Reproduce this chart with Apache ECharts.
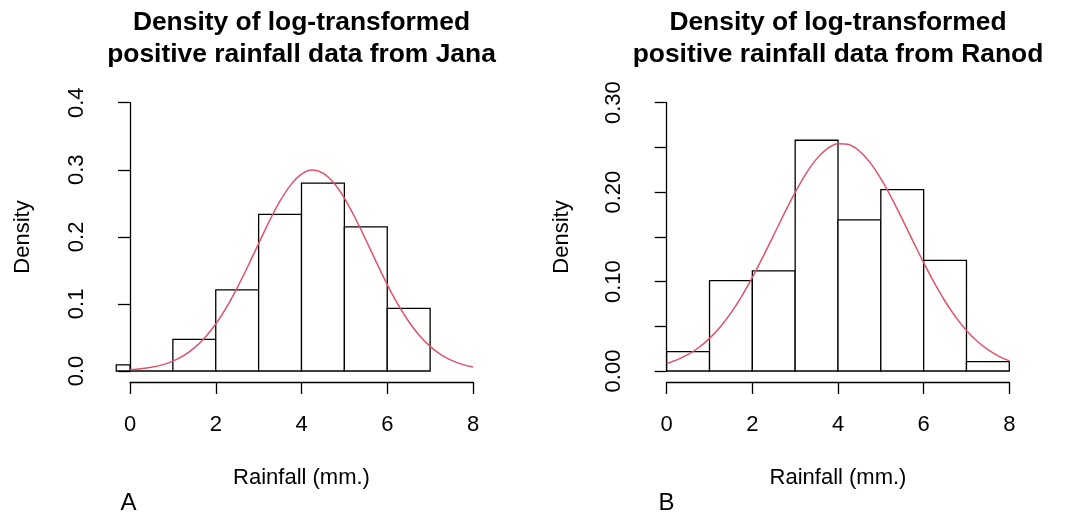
<!DOCTYPE html>
<html>
<head>
<meta charset="utf-8">
<script src="https://cdn.jsdelivr.net/npm/echarts@6/dist/echarts.min.js"></script>
<style>
  html, body { margin: 0; padding: 0; background: #fff; }
  #chart { width: 1069px; height: 517px; }
</style>
</head>
<body>
<div id="chart"></div>
<script>
// ---------- data ----------
const titleJana = ['Density of log-transformed', 'positive rainfall data from Jana'];
const titleRanod = ['Density of log-transformed', 'positive rainfall data from Ranod'];
const xLabel = 'Rainfall (mm.)';
const yLabel = 'Density';
const panelA = 'A';
const panelB = 'B';

// histogram bin edges (left, right) and densities
const binStartJana = [-1, 0, 1, 2, 3, 4, 5, 6];
const binEndJana   = [0, 1, 2, 3, 4, 5, 6, 7];
const densityJana  = [0.009, 0, 0.047, 0.121, 0.2335, 0.28, 0.215, 0.0935];

const binStartRanod = [0, 1, 2, 3, 4, 5, 6, 7];
const binEndRanod   = [1, 2, 3, 4, 5, 6, 7, 8];
const densityRanod  = [0.0216, 0.101, 0.112, 0.258, 0.169, 0.2028, 0.1237, 0.0104];

// fitted density curves
const curveX = [0, 0.25, 0.5, 0.75, 1, 1.25, 1.5, 1.75, 2, 2.25, 2.5, 2.75, 3, 3.25, 3.5, 3.75,
                4, 4.25, 4.5, 4.75, 5, 5.25, 5.5, 5.75, 6, 6.25, 6.5, 6.75, 7, 7.25, 7.5, 7.75, 8];
const curveJana = [0.0018, 0.0032, 0.0055, 0.0091, 0.0148, 0.0229, 0.0345, 0.0500, 0.0700, 0.0948,
                   0.1240, 0.1562, 0.1900, 0.2234, 0.2535, 0.2775, 0.2934, 0.2995, 0.2951, 0.2807,
                   0.2578, 0.2285, 0.1957, 0.1616, 0.1288, 0.0992, 0.0738, 0.0529, 0.0367, 0.0245,
                   0.0158, 0.0099, 0.0059];
const curveRanod = [0.0084, 0.0127, 0.0185, 0.0263, 0.0365, 0.0493, 0.0650, 0.0835, 0.1047, 0.1278,
                    0.1521, 0.1766, 0.1998, 0.2205, 0.2372, 0.2487, 0.2542, 0.2533, 0.2460, 0.2330,
                    0.2151, 0.1936, 0.1698, 0.1453, 0.1211, 0.0985, 0.0780, 0.0603, 0.0454, 0.0333,
                    0.0239, 0.0167, 0.0113];

// tick settings
const xTicks = { min: 0, max: 8, interval: 2 };
const yTicksJana = { min: 0, max: 0.4, interval: 0.1 };
const yTicksRanod = { min: 0, max: 0.3, interval: 0.05 };

// ---------- layout ----------
const FONT = '"Liberation Sans", Arial, Helvetica, sans-serif';
const XCLIP = -0.32; // left edge of the plot region in data units
const curveColor = '#DF536B';

function bins(s, e, d) { return s.map((v, i) => [v, e[i], d[i]]); }
function pts(xs, ys) { return xs.map((v, i) => [v, ys[i]]); }

function renderBar(params, api) {
  const x0 = Math.max(api.value(0), XCLIP);
  const p0 = api.coord([x0, 0]);
  const p1 = api.coord([api.value(1), api.value(2)]);
  return {
    type: 'rect',
    shape: { x: p0[0], y: p1[1], width: p1[0] - p0[0], height: p0[1] - p1[1] },
    style: { fill: '#ffffff', stroke: '#000000', lineWidth: 1.3 }
  };
}

function xAxisCfg(idx) {
  return {
    type: 'value', gridIndex: idx, min: xTicks.min, max: xTicks.max, interval: xTicks.interval,
    offset: 11,
    axisLine: { show: true, onZero: false, lineStyle: { color: '#000', width: 1.3 } },
    axisTick: { show: true, length: 12, lineStyle: { color: '#000', width: 1.3 } },
    axisLabel: { show: true, margin: 32, color: '#000', fontSize: 22, fontFamily: FONT, showMinLabel: true, showMaxLabel: true },
    splitLine: { show: false }
  };
}
function yAxisCfg(idx, t, offset, fmt) {
  return {
    type: 'value', gridIndex: idx, min: t.min, max: t.max, interval: t.interval,
    offset: offset,
    axisLine: { show: true, lineStyle: { color: '#000', width: 1.3 } },
    axisTick: { show: true, length: 12, lineStyle: { color: '#000', width: 1.3 } },
    axisLabel: { show: true, rotate: 90, margin: 28, color: '#000', fontSize: 22, fontFamily: FONT,
      showMinLabel: true, showMaxLabel: true, formatter: fmt },
    splitLine: { show: false }
  };
}

const chart = echarts.init(document.getElementById('chart'), null, { renderer: 'canvas' });
const txt = (text, x, y, font, rotation) => ({
  type: 'text', x: x, y: y, rotation: rotation || 0,
  style: { text: text, fill: '#000', font: font, textAlign: 'center', textVerticalAlign: 'middle' }
});
const TF = 'bold 26.4px ' + FONT;
const LF = '22px ' + FONT;

chart.setOption({
  animation: false,
  backgroundColor: '#ffffff',
  grid: [
    { left: 130, right: 596, top: 102.7, bottom: 146 },
    { left: 666.7, right: 59.7, top: 102.7, bottom: 146 }
  ],
  xAxis: [xAxisCfg(0), xAxisCfg(1)],
  yAxis: [
    yAxisCfg(0, yTicksJana, 14, v => v.toFixed(1)),
    yAxisCfg(1, yTicksRanod, 13.4, v => (Math.round(v * 100) % 10 === 0 ? v.toFixed(2) : ''))
  ],
  series: [
    { type: 'custom', xAxisIndex: 0, yAxisIndex: 0, renderItem: renderBar, clip: false,
      encode: { x: [0, 1], y: 2 }, data: bins(binStartJana, binEndJana, densityJana), z: 2 },
    { type: 'line', xAxisIndex: 0, yAxisIndex: 0, data: pts(curveX, curveJana), smooth: 0.3,
      symbol: 'none', lineStyle: { color: curveColor, width: 1.5 }, z: 3 },
    { type: 'custom', xAxisIndex: 1, yAxisIndex: 1, renderItem: renderBar, clip: false,
      encode: { x: [0, 1], y: 2 }, data: bins(binStartRanod, binEndRanod, densityRanod), z: 2 },
    { type: 'line', xAxisIndex: 1, yAxisIndex: 1, data: pts(curveX, curveRanod), smooth: 0.3,
      symbol: 'none', lineStyle: { color: curveColor, width: 1.5 }, z: 3 }
  ],
  graphic: [
    txt(titleJana[0], 301.5, 23, TF),
    txt(titleJana[1], 301.5, 55, TF),
    txt(titleRanod[0], 838, 23, TF),
    txt(titleRanod[1], 838, 55, TF),
    txt(xLabel, 301.5, 477.7, LF),
    txt(xLabel, 838, 477.7, LF),
    txt(yLabel, 23, 237, LF, Math.PI / 2),
    txt(yLabel, 562, 237, LF, Math.PI / 2),
    txt(panelA, 128.5, 503, '24px ' + FONT),
    txt(panelB, 666.5, 503, '24px ' + FONT)
  ]
});
</script>
</body>
</html>
